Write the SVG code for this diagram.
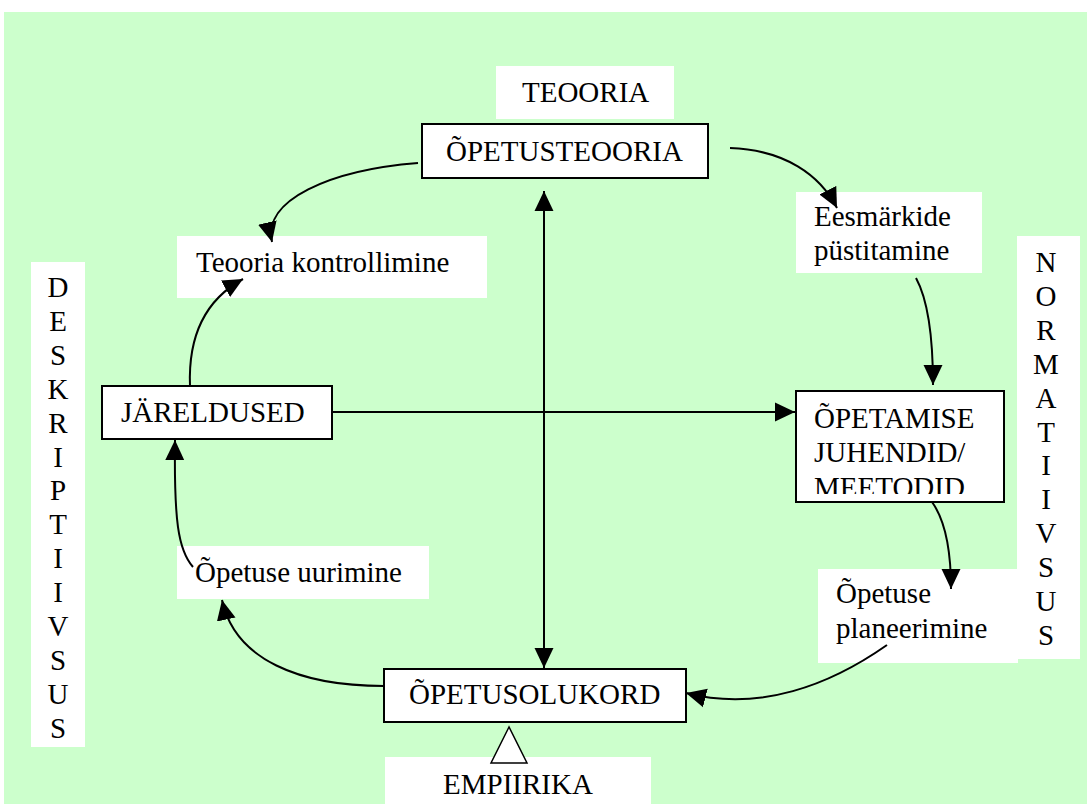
<svg xmlns="http://www.w3.org/2000/svg" width="1087" height="804" viewBox="0 0 1087 804">
<style>
text{font-family:"Liberation Serif","Times New Roman",serif;font-size:29px;fill:#000}
.box{fill:#fff;stroke:#000;stroke-width:2}
.lbl{fill:#fff;stroke:none}
.c{fill:none;stroke:#000;stroke-width:2}
.vc{text-anchor:middle}
</style>
<defs>
<marker id="ah" markerUnits="userSpaceOnUse" markerWidth="20" markerHeight="20" viewBox="0 0 19 18" refX="19" refY="9" orient="auto-start-reverse">
<path d="M0,0 L19,9 L0,18 z" fill="#000"/>
</marker>
<clipPath id="clipM"><rect x="797" y="392" width="206" height="102"/></clipPath>
</defs>
<rect x="0" y="0" width="1087" height="804" fill="#fff"/>
<rect x="4" y="12" width="1083" height="792" fill="#ccffcc"/>

<g id="teooria-label"><rect class="lbl" x="496" y="66" width="178" height="53"/><text x="522" y="102">TEOORIA</text></g>
<g id="opetusteooria"><rect class="box" x="422" y="124" width="286" height="54"/><text x="446" y="161">ÕPETUSTEOORIA</text></g>
<g id="teooria-kontrollimine"><rect class="lbl" x="177" y="236" width="310" height="62"/><text x="196" y="272">Teooria kontrollimine</text></g>
<g id="eesmarkide"><rect class="lbl" x="796" y="192" width="186" height="81"/><text x="814" y="226">Eesmärkide</text><text x="814" y="260">püstitamine</text></g>
<g id="deskriptiivsus"><rect class="lbl" x="31" y="262" width="54" height="485"/>
<text class="vc" x="58" y="297">D<tspan x="58" dy="33.9">E</tspan><tspan x="58" dy="33.9">S</tspan><tspan x="58" dy="33.9">K</tspan><tspan x="58" dy="33.9">R</tspan><tspan x="58" dy="33.9">I</tspan><tspan x="58" dy="33.9">P</tspan><tspan x="58" dy="33.9">T</tspan><tspan x="58" dy="33.9">I</tspan><tspan x="58" dy="33.9">I</tspan><tspan x="58" dy="33.9">V</tspan><tspan x="58" dy="33.9">S</tspan><tspan x="58" dy="33.9">U</tspan><tspan x="58" dy="33.9">S</tspan></text></g>
<g id="normatiivsus"><rect class="lbl" x="1017" y="236" width="63" height="423"/>
<text class="vc" x="1046" y="272">N<tspan x="1046" dy="33.9">O</tspan><tspan x="1046" dy="33.9">R</tspan><tspan x="1046" dy="33.9">M</tspan><tspan x="1046" dy="33.9">A</tspan><tspan x="1046" dy="33.9">T</tspan><tspan x="1046" dy="33.9">I</tspan><tspan x="1046" dy="33.9">I</tspan><tspan x="1046" dy="33.9">V</tspan><tspan x="1046" dy="33.9">S</tspan><tspan x="1046" dy="33.9">U</tspan><tspan x="1046" dy="33.9">S</tspan></text></g>
<g id="jareldused"><rect class="box" x="102" y="386" width="230" height="53"/><text x="121" y="422">JÄRELDUSED</text></g>
<g id="opetamise"><rect class="box" x="796" y="391" width="208" height="111"/><g clip-path="url(#clipM)"><text x="814" y="428">ÕPETAMISE</text><text x="814" y="462">JUHENDID/</text><text x="814" y="497">MEETODID</text></g></g>
<g id="opetuse-uurimine"><rect class="lbl" x="177" y="546" width="252" height="53"/><text x="195" y="582">Õpetuse uurimine</text></g>
<g id="opetuse-planeerimine"><rect class="lbl" x="818" y="569" width="200" height="94"/><text x="836" y="603">Õpetuse</text><text x="836" y="638">planeerimine</text></g>
<g id="opetusolukord"><rect class="box" x="384" y="669" width="302" height="53"/><text x="409" y="704">ÕPETUSOLUKORD</text></g>
<g id="empiirika"><rect class="lbl" x="385" y="757" width="266" height="47"/><text x="443" y="794">EMPIIRIKA</text><polygon points="509,727 491,763 527,763" fill="#fff" stroke="#000" stroke-width="1.5"/></g>

<g id="connectors">
<path class="c" marker-end="url(#ah)" d="M418,163 C330,170 262,200 272,242"/>
<path class="c" marker-end="url(#ah)" d="M730,148 C785,150 820,175 837,208"/>
<path class="c" marker-end="url(#ah)" d="M916,278 C928,300 933,335 933,385"/>
<path class="c" marker-end="url(#ah)" d="M332,412 L795,412"/>
<path class="c" marker-end="url(#ah)" d="M932,502 C945,520 951,550 951,589"/>
<path class="c" marker-end="url(#ah)" d="M887,645 C830,685 760,712 686,693"/>
<path class="c" marker-end="url(#ah)" d="M384,686 C300,686 235,660 222,600"/>
<path class="c" marker-end="url(#ah)" d="M193,567 C178,550 174,520 175,440"/>
<path class="c" marker-end="url(#ah)" d="M190,386 C188,335 205,300 243,279"/>
<path class="c" marker-start="url(#ah)" marker-end="url(#ah)" d="M544,191 L544,668"/>
</g>
</svg>
